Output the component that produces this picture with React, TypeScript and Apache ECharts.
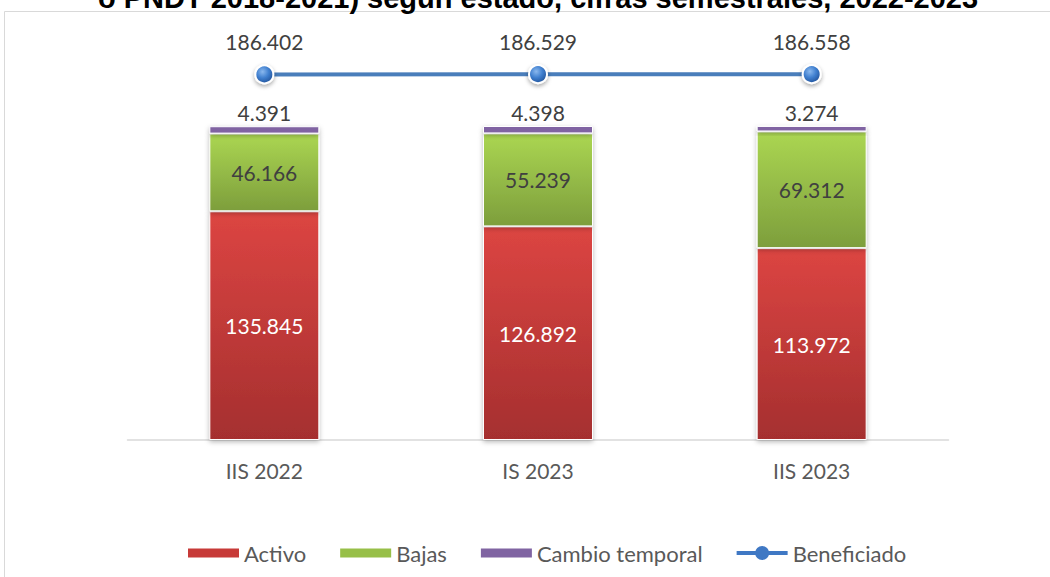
import React, { useEffect, useRef } from "react";
import * as echarts from "echarts";

const categories = ["IIS 2022", "IS 2023", "IIS 2023"];
const activo = [135845, 126892, 113972];
const bajas = [46166, 55239, 69312];
const cambioTemporal = [4391, 4398, 3274];
const beneficiado = [186402, 186529, 186558];

const titleText = "o PNDT 2018-2021) según estado, cifras semestrales, 2022-2023";

const FONT = "Lato, 'Open Sans', sans-serif";

const BAR_ICON = "path://M0,0 L51,0 L51,9 L0,9 Z";
const LINE_ICON =
  "path://M0,5 L51,5 L51,9 L0,9 Z M25.5,0 A7,7 0 1 1 25.5,14 A7,7 0 1 1 25.5,0 Z";

function fmt(v: number): string {
  return String(Math.round(v)).replace(/\B(?=(\d{3})+(?!\d))/g, ".");
}

export default function App() {
  const ref = useRef<HTMLDivElement>(null);
  useEffect(() => {
    document.body.style.margin = "0";
    if (!ref.current) return;
    const chart = echarts.init(ref.current, undefined, { renderer: "svg" });
    const barShadow = {
      borderColor: "#ffffff",
      borderWidth: 1,
      shadowColor: "rgba(0,0,0,0.28)",
      shadowBlur: 5,
      shadowOffsetY: 2,
    };
    const markerColor = new echarts.graphic.RadialGradient(0.4, 0.35, 0.7, [
      { offset: 0, color: "#8ab8ee" },
      { offset: 0.5, color: "#3f7fcf" },
      { offset: 1, color: "#1f4f95" },
    ]);
    chart.setOption({
      animation: false,
      backgroundColor: "#ffffff",
      textStyle: { fontFamily: FONT },
      graphic: [
        {
          type: "rect",
          shape: { x: 4.5, y: 11.5, width: 1200, height: 700 },
          style: { fill: "none", stroke: "#d9d9d9", lineWidth: 1 },
          silent: true,
          z: -10,
        },
        {
          type: "text",
          x: 538,
          y: 12,
          style: {
            text: titleText,
            fill: "#000000",
            font: "bold 29px 'Liberation Sans', Arial, sans-serif",
            textAlign: "center",
            textVerticalAlign: "bottom",
          },
          silent: true,
        },
      ],
      grid: { left: 127.5, right: 101.5, top: 36, bottom: 137 },
      legend: {
        left: 183,
        top: 537,
        itemWidth: 51,
        itemHeight: 14,
        itemGap: 34,
        symbolKeepAspect: true,
        itemStyle: { borderWidth: 0, shadowBlur: 0 },
        textStyle: { fontSize: 22, color: "#595959", fontFamily: FONT },
        data: [
          { name: "Activo", icon: BAR_ICON, itemStyle: { color: "#c73a38", borderWidth: 0 } },
          { name: "Bajas", icon: BAR_ICON, itemStyle: { color: "#97bf48", borderWidth: 0 } },
          { name: "Cambio temporal", icon: BAR_ICON, itemStyle: { color: "#8064a2", borderWidth: 0 } },
          {
            name: "Beneficiado",
            icon: LINE_ICON,
            itemStyle: { color: "#3f78c4", borderWidth: 0, shadowBlur: 0 },
          },
        ],
      },
      xAxis: {
        type: "category",
        data: categories,
        axisLine: { lineStyle: { color: "#d9d9d9", width: 1.5 } },
        axisTick: { show: false },
        axisLabel: { color: "#595959", fontSize: 21, margin: 20, fontFamily: FONT },
      },
      yAxis: [
        { type: "value", min: 0, max: 240000, show: false, splitLine: { show: false } },
        { type: "value", min: 0, max: 206000, show: false, splitLine: { show: false } },
      ],
      series: [
        {
          name: "Activo",
          type: "bar",
          stack: "total",
          barWidth: 110,
          data: activo,
          itemStyle: {
            color: new echarts.graphic.LinearGradient(0, 0, 0, 1, [
              { offset: 0, color: "#dc4542" },
              { offset: 1, color: "#a52f2f" },
            ]),
            ...barShadow,
          },
          label: {
            show: true,
            position: "inside",
            color: "#ffffff",
            fontSize: 21,
            fontFamily: FONT,
            formatter: (p: any) => fmt(p.value),
          },
        },
        {
          name: "Bajas",
          type: "bar",
          stack: "total",
          barWidth: 110,
          data: bajas,
          itemStyle: {
            color: new echarts.graphic.LinearGradient(0, 0, 0, 1, [
              { offset: 0, color: "#abd652" },
              { offset: 1, color: "#7d9e3c" },
            ]),
            ...barShadow,
          },
          label: {
            show: true,
            position: "inside",
            color: "#404040",
            fontSize: 21,
            fontFamily: FONT,
            formatter: (p: any) => fmt(p.value),
          },
        },
        {
          name: "Cambio temporal",
          type: "bar",
          stack: "total",
          barWidth: 110,
          data: cambioTemporal,
          itemStyle: {
            color: "#8064a2",
            ...barShadow,
          },
          label: {
            show: true,
            position: "top",
            distance: 3,
            color: "#404040",
            fontSize: 21,
            fontFamily: FONT,
            formatter: (p: any) => fmt(p.value),
          },
        },
        {
          name: "Beneficiado",
          type: "line",
          yAxisIndex: 1,
          data: beneficiado,
          symbol: "circle",
          symbolSize: 18,
          color: "#4a7ebb",
          lineStyle: {
            color: "#4a7ebb",
            width: 4,
          },
          itemStyle: {
            color: markerColor,
            borderColor: "#ffffff",
            borderWidth: 2,
            shadowColor: "rgba(0,0,0,0.35)",
            shadowBlur: 4,
            shadowOffsetY: 2,
          },
          label: {
            show: true,
            position: "top",
            distance: 12,
            color: "#404040",
            fontSize: 21,
            fontFamily: FONT,
            formatter: (p: any) => fmt(p.value),
          },
        },
      ],
    });
    return () => chart.dispose();
  }, []);
  return <div ref={ref} style={{ width: 1050, height: 577 }} />;
}
